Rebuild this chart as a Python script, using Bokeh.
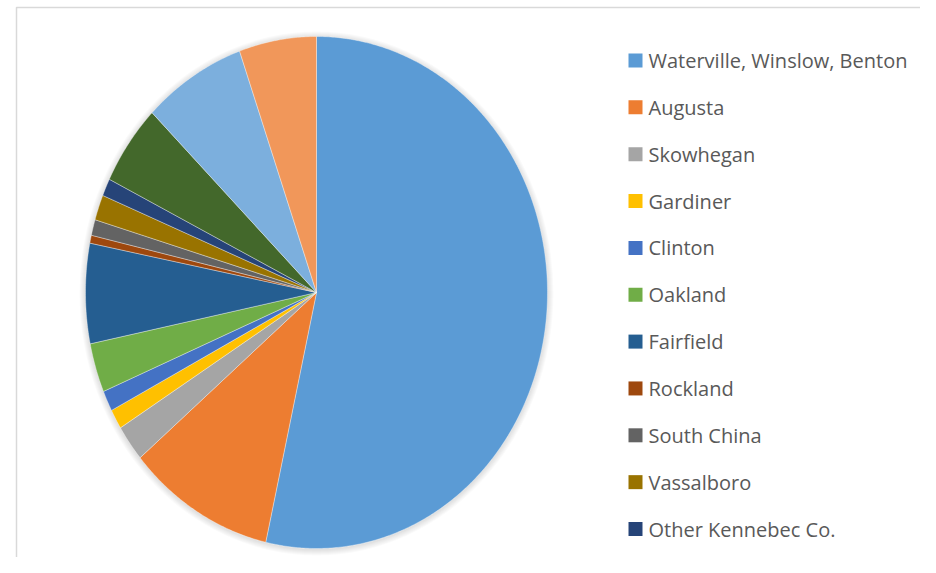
import numpy as np
from bokeh.plotting import figure
from bokeh.models import Range1d, ColumnDataSource
from bokeh.embed import file_html
from bokeh.resources import INLINE
from bokeh.core.properties import value

# ---- data (percent shares) ----
categories = ["Waterville, Winslow, Benton", "Augusta", "Skowhegan", "Gardiner",
              "Clinton", "Oakland", "Fairfield", "Rockland", "South China",
              "Vassalboro", "Other Kennebec Co.", "Slice 12", "Slice 13", "Slice 14"]
shares = [53.5, 10.3, 2.3, 1.25, 1.3, 3.1, 6.3, 0.5, 1.0, 1.6, 1.1, 5.1, 7.2, 5.4]
colors = ["#5B9BD5", "#ED7D31", "#A5A5A5", "#FFC000", "#4472C4", "#70AD47",
          "#255E91", "#9E480E", "#636363", "#997300", "#264478", "#43682B",
          "#7CAFDD", "#F1975A"]
legend_count = 11  # only the first 11 categories are shown in the legend

# ---- layout ----
W, H = 920, 557
cx, cy = 316, 292
rx, ry = 231, 256

p = figure(width=W, height=H, x_range=Range1d(0, W), y_range=Range1d(H, 0),
           output_backend="svg", toolbar_location=None, min_border=0,
           x_axis_location=None, y_axis_location=None)
p.grid.visible = False
p.outline_line_color = None
p.background_fill_color = "white"
p.border_fill_color = "white"

# chart border
p.quad(left=[16], right=[W + 20], top=[7], bottom=[H + 20], fill_color=None,
       line_color="#D9D9D9", line_width=1.5)

# soft shadow
for k in range(1, 7):
    p.ellipse(x=[cx], y=[cy + 1], width=[2 * (rx + k)], height=[2 * (ry + k)],
              fill_color="black", fill_alpha=0.018, line_color=None)

# pie slices (elliptical, clockwise from 12 o'clock)
total = float(sum(shares))
fr = np.array(shares) / total
ends = np.cumsum(fr) * 2 * np.pi
starts = ends - fr * 2 * np.pi
xs, ys = [], []
for a0, a1 in zip(starts, ends):
    n = max(4, int((a1 - a0) / (2 * np.pi) * 720))
    t = np.linspace(a0, a1, n)
    xs.append([cx] + list(cx + rx * np.sin(t)))
    ys.append([cy] + list(cy - ry * np.cos(t)))
src = ColumnDataSource(dict(xs=xs, ys=ys, color=colors, name=categories))
p.patches("xs", "ys", source=src, fill_color="color", line_color="white",
          line_alpha=0.45, line_width=0.8)

# legend
step = 46.85
mid0 = 60.0
idx = np.arange(legend_count)
leg = ColumnDataSource(dict(
    x=[635] * legend_count,
    y=list(mid0 + idx * step),
    ty=list(mid0 + idx * step),
    tx=[648] * legend_count,
    color=colors[:legend_count],
    label=categories[:legend_count]))
p.rect(x="x", y="y", width=14, height=14, source=leg, fill_color="color",
       line_color=None)
p.text(x="tx", y="ty", text="label", source=leg, text_font=value("Open Sans"),
       text_font_size="20px", text_color="#595959", text_baseline="middle",
       text_align="left")

open("out.html", "w").write(file_html(p, INLINE))
